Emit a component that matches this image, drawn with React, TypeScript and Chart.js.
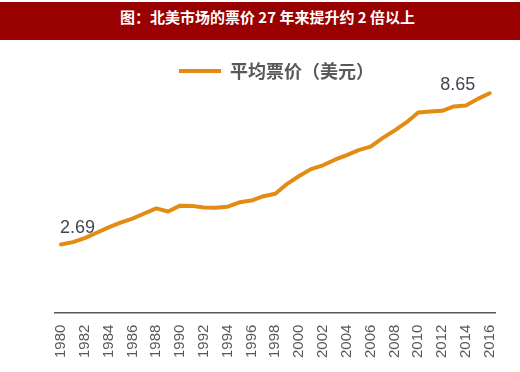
import React, { useEffect, useRef } from 'react';
import { Chart, registerables } from 'chart.js';

Chart.register(...registerables);

const TITLE = '图：北美市场的票价 27 年来提升约 2 倍以上';
const SERIES_LABEL = '平均票价（美元）';
const YEARS = [
  '1980', '1981', '1982', '1983', '1984', '1985', '1986', '1987', '1988', '1989',
  '1990', '1991', '1992', '1993', '1994', '1995', '1996', '1997', '1998', '1999',
  '2000', '2001', '2002', '2003', '2004', '2005', '2006', '2007', '2008', '2009',
  '2010', '2011', '2012', '2013', '2014', '2015', '2016',
];
const PRICES = [
  2.69, 2.78, 2.94, 3.15, 3.36, 3.55, 3.71, 3.91, 4.11, 3.99,
  4.22, 4.21, 4.15, 4.14, 4.18, 4.35, 4.42, 4.59, 4.69, 5.08,
  5.39, 5.66, 5.81, 6.03, 6.21, 6.41, 6.55, 6.88, 7.18, 7.5,
  7.89, 7.93, 7.96, 8.13, 8.17, 8.43, 8.65,
];
const LABELED_INDICES = [0, PRICES.length - 1];

const LINE_COLOR = '#E38B12';
const TEXT_GRAY = '#595959';

const valueLabels = {
  id: 'valueLabels',
  afterDatasetsDraw(chart: any) {
    const meta = chart.getDatasetMeta(0);
    const ctx = chart.ctx;
    ctx.save();
    ctx.font = '18px "Liberation Sans", Arial, sans-serif';
    ctx.fillStyle = '#404652';
    ctx.textBaseline = 'alphabetic';
    LABELED_INDICES.forEach((idx, k) => {
      const pt = meta.data[idx];
      if (!pt) return;
      const text = PRICES[idx].toFixed(2);
      if (k === 0) {
        ctx.textAlign = 'left';
        ctx.fillText(text, pt.x - 1, pt.y - 11);
      } else {
        ctx.textAlign = 'center';
        ctx.fillText(text, pt.x - 32, pt.y - 3);
      }
    });
    ctx.restore();
  },
};

export default function App() {
  const canvasRef = useRef<HTMLCanvasElement | null>(null);

  useEffect(() => {
    if (!canvasRef.current) return;
    const chart = new Chart(canvasRef.current, {
      type: 'line',
      data: {
        labels: YEARS,
        datasets: [
          {
            label: SERIES_LABEL,
            data: PRICES,
            borderColor: LINE_COLOR,
            backgroundColor: LINE_COLOR,
            borderWidth: 4,
            borderCapStyle: 'round',
            borderJoinStyle: 'round',
            pointRadius: 0,
            tension: 0,
            fill: false,
          },
        ],
      },
      options: {
        animation: false,
        responsive: false,
        maintainAspectRatio: false,
        layout: { padding: { top: 52, left: 55, right: 22, bottom: 2 } },
        plugins: {
          title: { display: false },
          tooltip: { enabled: false },
          legend: {
            display: true,
            position: 'top',
            labels: {
              usePointStyle: true,
              pointStyle: 'line',
              pointStyleWidth: 42,
              color: TEXT_GRAY,
              padding: 10,
              font: { size: 18, family: '"Noto Sans CJK SC", sans-serif', weight: 'bold' },
            },
          },
        },
        scales: {
          x: {
            type: 'category',
            offset: true,
            grid: { display: false, drawTicks: false },
            border: { display: true, color: TEXT_GRAY, width: 1.5 },
            ticks: {
              autoSkip: false,
              minRotation: 90,
              maxRotation: 90,
              padding: 12,
              color: TEXT_GRAY,
              font: { size: 15, family: '"Liberation Sans", Arial, sans-serif' },
              callback: (_v: any, i: number) => (i % 2 === 0 ? YEARS[i] : ''),
            },
          },
          y: {
            display: false,
            min: 0,
            max: 8.78,
          },
        },
      },
      plugins: [valueLabels],
    } as any);
    return () => chart.destroy();
  }, []);

  return (
    <div style={{ position: 'absolute', left: 0, top: 0, width: 520, height: 372, background: '#ffffff' }}>
      <canvas ref={canvasRef} width={520} height={372} style={{ position: 'absolute', left: 0, top: 0, width: 520, height: 372 }} />
      <div
        style={{
          position: 'absolute',
          left: 0,
          top: 2,
          width: 520,
          height: 38,
          background: '#990000',
          color: '#ffffff',
          fontFamily: '"Noto Sans CJK SC", sans-serif',
          fontWeight: 'bold',
          fontSize: 15,
          lineHeight: '30px',
          textAlign: 'center',
          paddingLeft: 15,
          boxSizing: 'border-box',
          whiteSpace: 'nowrap',
        }}
      >
        {TITLE}
      </div>
    </div>
  );
}
